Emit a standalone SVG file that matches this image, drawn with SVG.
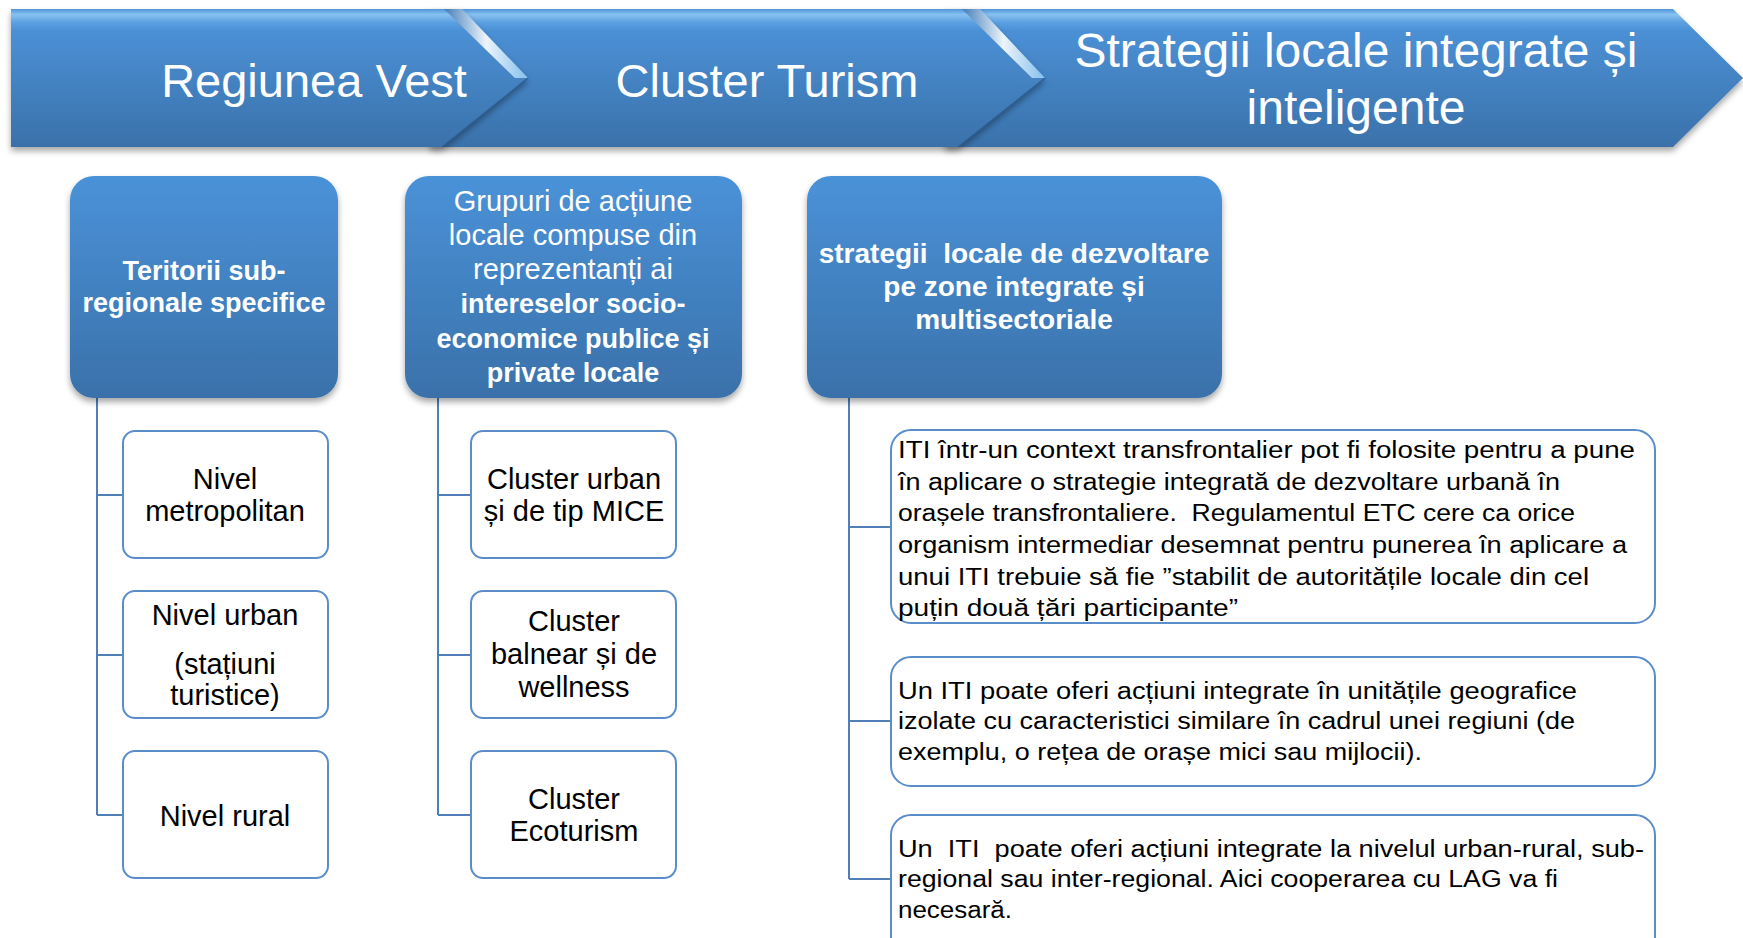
<svg xmlns="http://www.w3.org/2000/svg" width="1743" height="938" viewBox="0 0 1743 938">
<defs>
<linearGradient id="gBanner" x1="0" y1="0" x2="0" y2="1">
<stop offset="0" stop-color="#4f95d9"/>
<stop offset="0.04" stop-color="#86c1f0"/>
<stop offset="0.10" stop-color="#5a9fe0"/>
<stop offset="0.16" stop-color="#4b90d5"/>
<stop offset="1" stop-color="#3a71aa"/>
</linearGradient>
<linearGradient id="gBox" x1="0" y1="0" x2="0" y2="1">
<stop offset="0" stop-color="#4a92d8"/>
<stop offset="1" stop-color="#3a71aa"/>
</linearGradient>
<linearGradient id="gHi" x1="0" y1="0" x2="1" y2="0">
<stop offset="0" stop-color="#3d78b5"/>
<stop offset="0.5" stop-color="#ffffff"/>
<stop offset="1" stop-color="#8cc6f2"/>
</linearGradient>
<filter id="sh" x="-5%" y="-10%" width="110%" height="130%">
<feDropShadow dx="0" dy="4" stdDeviation="3" flood-color="#000" flood-opacity="0.35"/>
</filter>
<style>
.ban{fill:url(#gBanner);filter:url(#sh)}
.hi{fill:url(#gHi);opacity:0.9}
.edge{stroke:#2c5e95;stroke-width:1.2;fill:none}
.hdr{fill:url(#gBox);filter:url(#sh)}
.child{fill:#fff;stroke:#5b8ec9;stroke-width:2}
.conn{stroke:#4f7fb8;stroke-width:2;fill:none}
.tt{font-family:"Liberation Sans",Arial,sans-serif;font-size:47px;fill:#fff;text-anchor:middle}
.tt3{font-size:48px}
.hb{font-family:"Liberation Sans",Arial,sans-serif;font-size:27px;font-weight:bold;fill:#fff;text-anchor:middle;white-space:pre}
.hc{font-size:28px}
.hn{font-family:"Liberation Sans",Arial,sans-serif;font-size:29px;fill:#fff;text-anchor:middle}
.ct{font-family:"Liberation Sans",Arial,sans-serif;font-size:29px;fill:#000;text-anchor:middle}
.it{font-family:"Liberation Sans",Arial,sans-serif;font-size:23px;fill:#000;white-space:pre}
</style>
</defs>
<rect width="1743" height="938" fill="#fff"/>

<g id="banner">
<g id="seg3">
<path class="ban" d="M945,9 H1673 L1743,78 L1673,147 H945 Z"/>
<text class="tt tt3" x="1356" y="67">Strategii locale integrate și</text>
<text class="tt tt3" x="1356" y="124">inteligente</text>
</g>
<g id="seg2">
<path class="ban" d="M430,9 H980 L1045,78 L958,147 H430 Z"/>
<polygon class="hi" points="962,9 980,9 1045,78 1032,78"/>
<path class="edge" d="M1045,78 L958,147"/>
<text class="tt" x="767" y="97">Cluster Turism</text>
</g>
<g id="seg1">
<path class="ban" d="M11,9 H462 L528,78 L442,147 H11 Z"/>
<polygon class="hi" points="444,9 462,9 528,78 515,78"/>
<path class="edge" d="M528,78 L442,147"/>
<text class="tt" x="314" y="97">Regiunea Vest</text>
</g>
</g>

<g id="connectors">
<path class="conn" d="M97,398 V815 M97,495 H122 M97,655 H122 M97,815 H122"/>
<path class="conn" d="M438,398 V815 M438,495 H471 M438,655 H471 M438,815 H471"/>
<path class="conn" d="M849,398 V879 M849,527 H891 M849,721 H891 M849,879 H891"/>
</g>

<g id="boxA">
<rect class="hdr" x="70" y="176" width="268" height="222" rx="24"/>
<text class="hb" x="204" y="280">Teritorii sub-</text>
<text class="hb" x="204" y="312">regionale specifice</text>
</g>
<g id="boxB">
<rect class="hdr" x="405" y="176" width="337" height="222" rx="24"/>
<text class="hn" x="573" y="211">Grupuri de acțiune</text>
<text class="hn" x="573" y="245">locale compuse din</text>
<text class="hn" x="573" y="279">reprezentanți ai</text>
<text class="hb" x="573" y="313">intereselor socio-</text>
<text class="hb" x="573" y="348">economice publice și</text>
<text class="hb" x="573" y="382">private locale</text>
</g>
<g id="boxC">
<rect class="hdr" x="807" y="176" width="415" height="222" rx="24"/>
<text class="hb hc" x="1014" y="263">strategii  locale de dezvoltare</text>
<text class="hb hc" x="1014" y="296">pe zone integrate și</text>
<text class="hb hc" x="1014" y="329">multisectoriale</text>
</g>

<g id="nivelMetro">
<rect class="child" x="123" y="431" width="205" height="127" rx="12"/>
<text class="ct" x="225" y="489">Nivel</text>
<text class="ct" x="225" y="521">metropolitan</text>
</g>
<g id="nivelUrban">
<rect class="child" x="123" y="591" width="205" height="127" rx="12"/>
<text class="ct" x="225" y="625">Nivel urban</text>
<text class="ct" x="225" y="674">(stațiuni</text>
<text class="ct" x="225" y="705">turistice)</text>
</g>
<g id="nivelRural">
<rect class="child" x="123" y="751" width="205" height="127" rx="12"/>
<text class="ct" x="225" y="826">Nivel rural</text>
</g>

<g id="clusterUrban">
<rect class="child" x="471" y="431" width="205" height="127" rx="12"/>
<text class="ct" x="574" y="489">Cluster urban</text>
<text class="ct" x="574" y="521">și de tip MICE</text>
</g>
<g id="clusterBalnear">
<rect class="child" x="471" y="591" width="205" height="127" rx="12"/>
<text class="ct" x="574" y="631">Cluster</text>
<text class="ct" x="574" y="664">balnear și de</text>
<text class="ct" x="574" y="697">wellness</text>
</g>
<g id="clusterEco">
<rect class="child" x="471" y="751" width="205" height="127" rx="12"/>
<text class="ct" x="574" y="809">Cluster</text>
<text class="ct" x="574" y="841">Ecoturism</text>
</g>

<g id="iti1">
<rect class="child" x="891" y="430" width="764" height="193" rx="20"/>
<text class="it" x="898" y="458" textLength="737" lengthAdjust="spacingAndGlyphs">ITI într-un context transfrontalier pot fi folosite pentru a pune</text>
<text class="it" x="898" y="490" textLength="662" lengthAdjust="spacingAndGlyphs">în aplicare o strategie integrată de dezvoltare urbană în</text>
<text class="it" x="898" y="521" textLength="677" lengthAdjust="spacingAndGlyphs">orașele transfrontaliere.  Regulamentul ETC cere ca orice</text>
<text class="it" x="898" y="553" textLength="729" lengthAdjust="spacingAndGlyphs">organism intermediar desemnat pentru punerea în aplicare a</text>
<text class="it" x="898" y="585" textLength="691" lengthAdjust="spacingAndGlyphs">unui ITI trebuie să fie ”stabilit de autoritățile locale din cel</text>
<text class="it" x="898" y="616" textLength="340" lengthAdjust="spacingAndGlyphs">puțin două țări participante”</text>
</g>
<g id="iti2">
<rect class="child" x="891" y="657" width="764" height="129" rx="20"/>
<text class="it" x="898" y="699" textLength="679" lengthAdjust="spacingAndGlyphs">Un ITI poate oferi acțiuni integrate în unitățile geografice</text>
<text class="it" x="898" y="729" textLength="677" lengthAdjust="spacingAndGlyphs">izolate cu caracteristici similare în cadrul unei regiuni (de</text>
<text class="it" x="898" y="760" textLength="524" lengthAdjust="spacingAndGlyphs">exemplu, o rețea de orașe mici sau mijlocii).</text>
</g>
<g id="iti3">
<rect class="child" x="891" y="815" width="764" height="150" rx="20"/>
<text class="it" x="898" y="857" textLength="746" lengthAdjust="spacingAndGlyphs">Un  ITI  poate oferi acțiuni integrate la nivelul urban-rural, sub-</text>
<text class="it" x="898" y="887" textLength="660" lengthAdjust="spacingAndGlyphs">regional sau inter-regional. Aici cooperarea cu LAG va fi</text>
<text class="it" x="898" y="918" textLength="114" lengthAdjust="spacingAndGlyphs">necesară.</text>
</g>
</svg>
